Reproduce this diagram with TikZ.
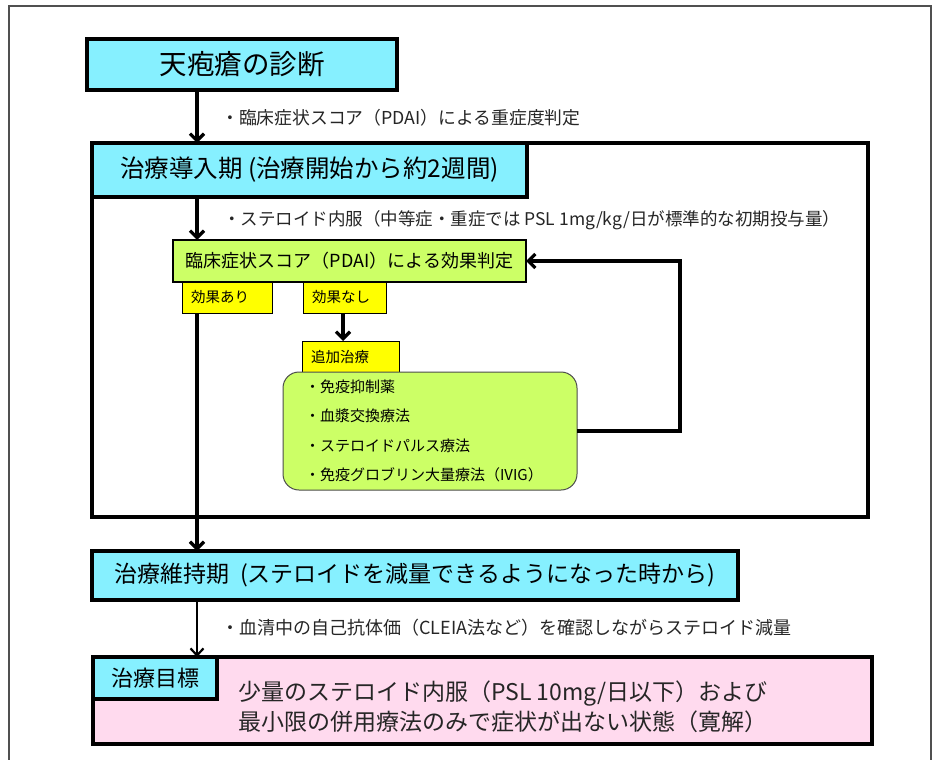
\documentclass[tikz,border=0pt]{standalone}
\usepackage{fontspec}
\setmainfont{Noto Sans CJK JP}
\usetikzlibrary{arrows.meta}
\definecolor{cy}{HTML}{86F0FF}
\definecolor{gr}{HTML}{CCFF66}
\definecolor{ye}{HTML}{FFFF00}
\definecolor{pk}{HTML}{FFDAEE}
\definecolor{fr}{HTML}{505050}
\newcommand{\fs}[2]{\fontsize{#1}{#2}\selectfont}
\begin{document}
\begin{tikzpicture}[x=1pt,y=-1pt,
  box/.style={draw, anchor=north west, outer sep=0pt, inner sep=0pt},
  cybox/.style={box, fill=cy, line width=3.5pt},
  ybox/.style={box, fill=ye, line width=1pt, align=left, inner xsep=9pt, minimum height=31pt},
  lbl/.style={anchor=west, inner sep=0pt, text=black!85},
  arr/.style={line width=3.2pt, -{Straight Barb[length=7pt,width=14pt]}},
  arrthin/.style={line width=2.2pt, -{Straight Barb[length=7pt,width=13pt]}}
]
\useasboundingbox (0,0) rectangle (937,760);
\fill[white] (0,0) rectangle (937,760);
\draw[fr, line width=1.2pt] (9,770) -- (9,6) -- (931,6) -- (931,770);

\coordinate (colA) at (197,0);
\coordinate (colB) at (343,0);
\coordinate (loopx) at (680,0);

% diagnosis
\node[cybox, minimum width=310pt, minimum height=51pt, font=\fs{27.5}{30}] (diag) at (87,39) {天疱瘡の診断};

% induction frame
\node[box, line width=4pt, minimum width=776pt, minimum height=374pt] (frame) at (92,143) {};
\node[cybox, line width=4pt, minimum width=435pt, minimum height=54pt, font=\fs{24.5}{26}] (hdr) at (92,143) {治療導入期 (治療開始から約2週間)};

\node[lbl, font=\fs{17.8}{19}] (lab1) at (221,118) {・臨床症状スコア（PDAI）による重症度判定};
\draw[arr] (diag.south -| colA) -- (hdr.north -| colA);

\node[lbl, font=\fs{17.5}{19}] (lab2) at (223,220) {・ステロイド内服（中等症・重症では PSL 1mg/kg/日が標準的な初期投与量）};

\node[box, fill=gr, line width=2pt, minimum width=353pt, minimum height=42pt, font=\fs{18}{20}] (judge) at (173,240) {臨床症状スコア（PDAI）による効果判定};
\draw[arr] (hdr.south -| colA) -- (judge.north -| colA);

\node[ybox, text width=72pt, font=\fs{14.5}{16}] (yes) at (182,282) {効果あり};
\node[ybox, text width=65pt, font=\fs{14.5}{16}] (no) at (303,282) {効果なし};
\node[ybox, text width=79pt, font=\fs{14.5}{16}] (add) at (302,341) {追加治療};
\draw[arr] (no.south -| colB) -- (add.north -| colB);

\node[box, fill=gr, draw=black!70, line width=1pt, rounded corners=16pt, minimum width=284pt, minimum height=118pt, text width=250pt, align=left, inner xsep=22pt, font=\fs{15}{29.3}] (opts) at (283,372)
  {・免疫抑制薬\\・血漿交換療法\\・ステロイドパルス療法\\・免疫グロブリン大量療法（IVIG）};

\draw[arr] (opts.east) -- (opts.east -| loopx) |- (judge.east);

% maintenance
\node[cybox, minimum width=646pt, minimum height=49pt, font=\fs{23}{26}] (maint) at (92,551) {治療維持期\ \ (ステロイドを減量できるようになった時から)};
\draw[arr] (yes.south -| colA) -- (maint.north -| colA);

\node[lbl, font=\fs{18}{19}] (lab3) at (221,628) {・血清中の自己抗体価（CLEIA法など）を確認しながらステロイド減量};

% goal
\node[box, fill=pk, line width=3.5pt, minimum width=779pt, minimum height=87pt] (goalbox) at (93,657) {};
\node[cybox, minimum width=124pt, minimum height=42pt, font=\fs{22}{24}] (goal) at (93,657) {治療目標};
\draw[arrthin] (maint.south -| colA) -- (goalbox.north -| colA);
\node[lbl, align=left, font=\fs{23}{30}] (goaltxt) at (238,707) {少量のステロイド内服（PSL 10mg/日以下）および\\最小限の併用療法のみで症状が出ない状態（寛解）};
\end{tikzpicture}
\end{document}
